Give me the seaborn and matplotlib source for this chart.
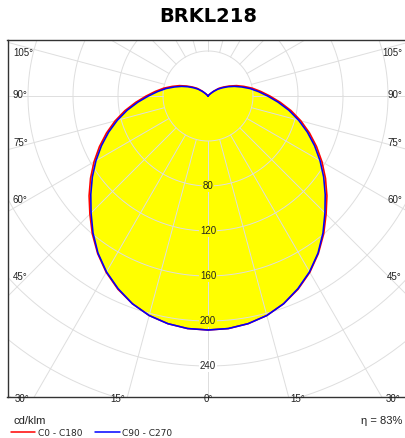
import numpy as np
import pandas as pd
import seaborn as sns
import matplotlib.pyplot as plt

# gamma angles (deg) and intensities in cd/klm
gamma = list(range(0, 181, 5))
c0_c180 = [208, 207.5, 205.5, 202, 196.5, 189.5, 181, 171, 160, 148.5, 138, 127.5, 117,
           106.5, 96, 85.5, 75, 64.5, 55, 47, 40, 33, 27, 21, 16, 12, 7, 3, 1,
           0, 0, 0, 0, 0, 0, 0, 0]
c90_c270 = [208, 207.5, 205.5, 202, 196.5, 189, 180.5, 170.5, 159, 147, 136,
            125.5, 115, 104.5, 94, 83.5, 73, 62.5, 53, 45, 38, 31,
            25, 19.5, 14.5, 10.5, 6, 2.5, 0.5, 0, 0, 0, 0, 0, 0, 0, 0]
series_names = ['C0 - C180', 'C90 - C270']
ring_values = [40, 80, 120, 160, 200, 240, 280, 320, 360]
ring_labels = [80, 120, 160, 200, 240]
spoke_angles = list(range(0, 181, 15))
title = 'BRKL218'
unit_text = 'cd/klm'
eta_text = 'η = 83%'

# angle labels round the frame: (text, x px, y px, ha)
edge_labels = [('105°', 13, 52.5, 'left'), ('90°', 13, 95, 'left'),
               ('75°', 13, 143, 'left'), ('60°', 13, 200, 'left'),
               ('45°', 13, 277, 'left'), ('30°', 15, 399, 'left'),
               ('15°', 117.5, 399, 'center'), ('0°', 208, 399, 'center'),
               ('15°', 298, 399, 'center'), ('30°', 400, 399, 'right'),
               ('45°', 402, 277, 'right'), ('60°', 402, 200, 'right'),
               ('75°', 402, 143, 'right'), ('90°', 402, 95, 'right'),
               ('105°', 402, 52.5, 'right')]

K = 1.125          # pixels per cd/klm
CX, CY = 208, 96   # pole in pixels


def to_data(px, py):
    return (px - CX) / K, (CY - py) / K


def closed_curve(vals):
    g = np.array(gamma, dtype=float)
    v = np.array(vals, dtype=float)
    theta = np.concatenate([-g[::-1], g[1:]])
    inten = np.concatenate([v[::-1], v[1:]])
    t = np.radians(theta)
    return inten * np.sin(t), -inten * np.cos(t)


rows = []
for name, vals in zip(series_names, [c0_c180, c90_c270]):
    x, y = closed_curve(vals)
    for i in range(len(x)):
        rows.append({'x': x[i], 'y': y[i], 'series': name, 'order': i})
df = pd.DataFrame(rows)

sns.set_style('white')
fig = plt.figure(figsize=(4.06, 4.38), dpi=100)
ax = fig.add_axes([7.5 / 406, 41 / 438, 401 / 406, 357.5 / 438])
ax.set_xlim(-200.5 / K, 200.5 / K)
ax.set_ylim((CY - 397) / K, (CY - 39.5) / K)

# yellow body
fx, fy = closed_curve(np.maximum(c0_c180, c90_c270))
ax.fill(fx, fy, color='#ffff00', zorder=1, lw=0)

# grid
grid_col = '#dedede'
t = np.linspace(0, 2 * np.pi, 400)
for r in ring_values:
    ax.plot(r * np.cos(t), r * np.sin(t), color=grid_col, lw=0.7, zorder=2)
for a in spoke_angles:
    for s in (-1, 1):
        ar = np.radians(a)
        ax.plot([s * 40 * np.sin(ar), s * 420 * np.sin(ar)],
                [-40 * np.cos(ar), -420 * np.cos(ar)],
                color=grid_col, lw=0.7, zorder=2)

sns.lineplot(data=df, x='x', y='y', hue='series', hue_order=series_names,
             palette=['#ff0000', '#0000ff'], sort=False, estimator=None,
             units='series', lw=1.15, zorder=3, ax=ax)

lab_font = ['Liberation Sans', 'DejaVu Sans']
for r in ring_labels:
    bg = '#ffff00' if r < min(c0_c180[0], c90_c270[0]) else 'white'
    ax.text(0, -r, str(r), ha='center', va='center', fontsize=7,
            family=lab_font, color='#222222', zorder=4,
            bbox=dict(facecolor=bg, edgecolor='none', pad=0.6))

for txt, px, py, ha in edge_labels:
    dx, dy = to_data(px, py)
    ax.text(dx, dy, txt, ha=ha, va='center', fontsize=7, family=lab_font,
            color='#222222', zorder=4, clip_on=False)

ax.set_xticks([])
ax.set_yticks([])
ax.set_xlabel('')
ax.set_ylabel('')
for side in ['left', 'top', 'bottom']:
    ax.spines[side].set_color('#333333')
    ax.spines[side].set_linewidth(1.0)
ax.spines['right'].set_visible(False)

fig.text(208 / 406, 1 - 17 / 438, title, ha='center', va='center',
         fontsize=14, fontweight='bold', family='DejaVu Sans', color='black')
fig.text(13 / 406, 1 - 421 / 438, unit_text, ha='left', va='center',
         fontsize=8, family=lab_font, color='#222222')
fig.text(402 / 406, 1 - 421 / 438, eta_text, ha='right', va='center',
         fontsize=8, family=lab_font, color='#222222')

sns.move_legend(ax, 'center left', bbox_to_anchor=(11 / 406, 1 - 433 / 438),
                bbox_transform=fig.transFigure, ncol=2, frameon=False,
                title=None, fontsize=6.5, handlelength=2.7, handletextpad=0.3,
                columnspacing=1.4, borderpad=0, borderaxespad=0)
for line in ax.get_legend().get_lines():
    line.set_linewidth(1.1)

fig.savefig('out.png', dpi=100)
